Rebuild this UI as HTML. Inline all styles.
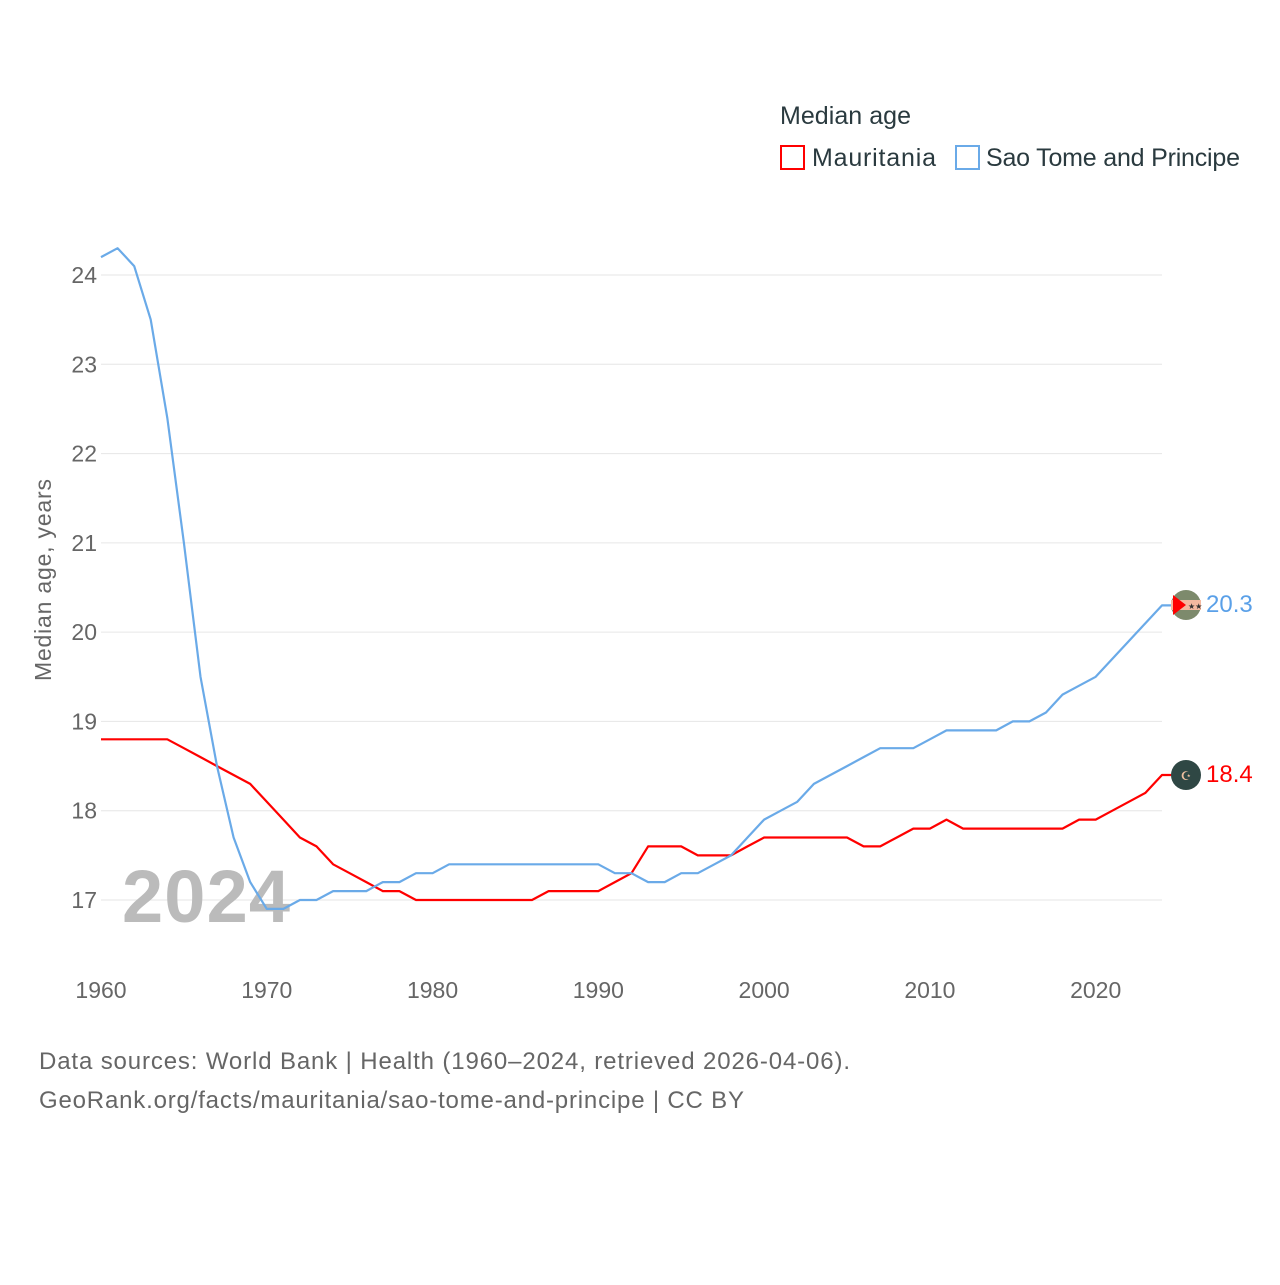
<!DOCTYPE html>
<html><head><meta charset="utf-8"><style>
body{margin:0;background:#fff;width:1280px;height:1280px;overflow:hidden;font-family:"Liberation Sans",sans-serif}
</style></head><body>
<svg id="chart" width="1280" height="1280" xmlns="http://www.w3.org/2000/svg" style="font-family:'Liberation Sans',sans-serif">
<text x="780" y="124" font-size="25" fill="#2a3a3f" textLength="131">Median age</text>
<g><rect x="781" y="146" width="23" height="23" fill="none" stroke="#ff0000" stroke-width="2"/><text x="812" y="166" font-size="25" fill="#2a3a3f" textLength="124">Mauritania</text></g>
<g><rect x="956" y="146" width="23" height="23" fill="none" stroke="#6aaae8" stroke-width="2"/><text x="986" y="166" font-size="25" fill="#2a3a3f" textLength="254">Sao Tome and Principe</text></g>
<g id="grid"></g>
<text x="122" y="922" font-size="74" font-weight="bold" fill="#bbbbbb" textLength="168">2024</text>
<g id="lines"></g>
<text transform="translate(51,580) rotate(-90)" text-anchor="middle" font-size="23" fill="#666" textLength="202">Median age, years</text>
<g><circle cx="1186" cy="605" r="15" fill="#7d8a6c"/><rect x="1171" y="600" width="30" height="10" fill="#f4b9a0"/><path d="M1173 595 L1186 605 L1173 615 Z" fill="#ff0000"/><text x="1188" y="609" font-size="8" fill="#333">★★</text></g>
<g><circle cx="1186" cy="775" r="15" fill="#2f4744"/><text x="1186" y="780" text-anchor="middle" font-size="12" fill="#f0c0a0">☪</text></g>
<text x="1206" y="612" font-size="24" fill="#5aa0e8">20.3</text>
<text x="1206" y="782" font-size="24" fill="#ff0000">18.4</text>
<text x="39" y="1069" font-size="24" fill="#666" textLength="811">Data sources: World Bank | Health (1960–2024, retrieved 2026-04-06).</text>
<text x="39" y="1108" font-size="24" fill="#666" textLength="705">GeoRank.org/facts/mauritania/sao-tome-and-principe | CC BY</text>
</svg>
<script>
const years=[];for(let y=1960;y<=2024;y++)years.push(y);
const mauritania=[18.8,18.8,18.8,18.8,18.8,18.7,18.6,18.5,18.4,18.3,18.1,17.9,17.7,17.6,17.4,17.3,17.2,17.1,17.1,17.0,17.0,17.0,17.0,17.0,17.0,17.0,17.0,17.1,17.1,17.1,17.1,17.2,17.3,17.6,17.6,17.6,17.5,17.5,17.5,17.6,17.7,17.7,17.7,17.7,17.7,17.7,17.6,17.6,17.7,17.8,17.8,17.9,17.8,17.8,17.8,17.8,17.8,17.8,17.8,17.9,17.9,18.0,18.1,18.2,18.4];
const saoTome=[24.2,24.3,24.1,23.5,22.4,21.0,19.5,18.5,17.7,17.2,16.9,16.9,17.0,17.0,17.1,17.1,17.1,17.2,17.2,17.3,17.3,17.4,17.4,17.4,17.4,17.4,17.4,17.4,17.4,17.4,17.4,17.3,17.3,17.2,17.2,17.3,17.3,17.4,17.5,17.7,17.9,18.0,18.1,18.3,18.4,18.5,18.6,18.7,18.7,18.7,18.8,18.9,18.9,18.9,18.9,19.0,19.0,19.1,19.3,19.4,19.5,19.7,19.9,20.1,20.3];
const yTicks=[17,18,19,20,21,22,23,24];
const xTicks=[1960,1970,1980,1990,2000,2010,2020];
const NS="http://www.w3.org/2000/svg";
const xs=y=>101+(y-1960)*(1162-101)/64;
const ys=v=>900-(v-17)*(625/7);
const grid=document.getElementById('grid');
yTicks.forEach(t=>{
 const l=document.createElementNS(NS,'line');
 
 
 l.setAttribute('x1',101);l.setAttribute('x2',1162);l.setAttribute('y1',ys(t));l.setAttribute('y2',ys(t));
 l.setAttribute('stroke','#e6e6e6');l.setAttribute('stroke-width','1');grid.appendChild(l);
 const tx=document.createElementNS(NS,'text');
 
 
 tx.setAttribute('x',97);tx.setAttribute('y',ys(t)+8);tx.setAttribute('text-anchor','end');
 tx.setAttribute('font-size','23');tx.setAttribute('fill','#666');tx.textContent=t;grid.appendChild(tx);
});
xTicks.forEach(t=>{
 const tx=document.createElementNS(NS,'text');
 
 
 tx.setAttribute('x',xs(t));tx.setAttribute('y',998);tx.setAttribute('text-anchor','middle');
 tx.setAttribute('font-size','23');tx.setAttribute('fill','#666');tx.textContent=t;grid.appendChild(tx);
});
const lines=document.getElementById('lines');
function draw(vals,color,name){
 let d=vals.map((v,i)=>(i?'L':'M')+xs(years[i]).toFixed(1)+' '+ys(v).toFixed(1)).join(' ');
 d+=' L'+(xs(2024)+10)+' '+ys(vals[vals.length-1]).toFixed(1);
 const p=document.createElementNS(NS,'path');
 
 
 p.setAttribute('d',d);p.setAttribute('fill','none');p.setAttribute('stroke',color);
 p.setAttribute('stroke-width','2.2');p.setAttribute('stroke-linejoin','round');lines.appendChild(p);
}
draw(mauritania,'#ff0000','line-mauritania');
draw(saoTome,'#6aaae8','line-sao-tome');
</script>
</body></html>
